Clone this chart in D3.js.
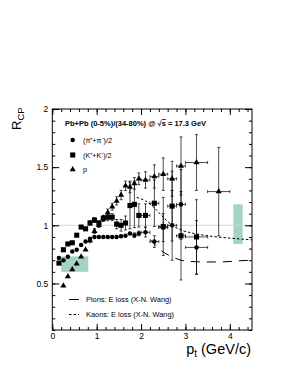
<!DOCTYPE html>
<html>
<head>
<meta charset="utf-8">
<script src="https://cdn.jsdelivr.net/npm/d3@7"></script>
<style>
  body { margin: 0; background: #fff; }
  svg { display: block; font-family: "Liberation Sans", Arial, sans-serif; }
</style>
</head>
<body>
<div id="chart"></div>
<script>
// pions (pi+ + pi-)/2
const pionPt   = [0.15, 0.25, 0.35, 0.45, 0.55, 0.65, 0.75, 0.85, 0.95, 1.05, 1.15, 1.25, 1.35, 1.45, 1.55, 1.65, 1.75, 1.85, 1.95, 2.1, 2.3, 2.5, 2.7, 2.9, 3.25];
const pionRcp  = [0.72, 0.70, 0.73, 0.775, 0.79, 0.83, 0.86, 0.885, 0.90, 0.90, 0.90, 0.90, 0.90, 0.90, 0.905, 0.91, 0.93, 0.915, 0.93, 0.94, 0.86, 0.98, 1.0, 1.18, 0.81];
const pionErr  = [0.01, 0.01, 0.01, 0.01, 0.01, 0.01, 0.01, 0.01, 0.01, 0.01, 0.01, 0.01, 0.01, 0.012, 0.012, 0.015, 0.015, 0.02, 0.02, 0.04, 0.05, 0.12, 0.3, 0.3, 0.23];
const pionXErr = [0, 0, 0, 0, 0, 0, 0, 0, 0, 0, 0, 0, 0, 0, 0, 0, 0, 0, 0, 0.1, 0.1, 0.1, 0.1, 0.1, 0.25];

// kaons (K+ + K-)/2
const kaonPt   = [0.15, 0.25, 0.35, 0.45, 0.55, 0.65, 0.75, 0.85, 0.95, 1.05, 1.15, 1.25, 1.35, 1.45, 1.55, 1.65, 1.75, 1.85, 1.95, 2.1, 2.3, 2.5, 2.7, 2.9, 3.25];
const kaonRcp  = [0.675, 0.79, 0.84, 0.85, 0.915, 0.985, 0.97, 1.02, 1.045, 1.02, 1.06, 1.07, 1.07, 1.01, 1.0, 1.02, 1.17, 1.18, 1.085, 1.085, 1.19, 0.99, 1.165, 0.91, 0.90];
const kaonErr  = [0.01, 0.01, 0.01, 0.01, 0.015, 0.015, 0.015, 0.02, 0.02, 0.02, 0.025, 0.03, 0.03, 0.04, 0.05, 0.06, 0.2, 0.2, 0.1, 0.1, 0.2, 0.25, 0.3, 0.38, 0.32];
const kaonXErr = [0, 0, 0, 0, 0, 0, 0, 0, 0, 0, 0, 0, 0, 0, 0, 0, 0, 0, 0, 0.1, 0.1, 0.1, 0.1, 0.1, 0.25];

// protons
const protonPt   = [0.25, 0.35, 0.45, 0.55, 0.65, 0.75, 0.85, 0.95, 1.05, 1.15, 1.25, 1.35, 1.45, 1.55, 1.65, 1.75, 1.85, 1.95, 2.1, 2.3, 2.5, 2.7, 2.9, 3.25, 3.75];
const protonRcp  = [0.48, 0.56, 0.62, 0.67, 0.73, 0.79, 0.87, 0.95, 1.0, 1.06, 1.11, 1.16, 1.21, 1.26, 1.34, 1.33, 1.36, 1.40, 1.39, 1.42, 1.44, 1.40, 1.51, 1.54, 1.29];
const protonErr  = [0.01, 0.01, 0.01, 0.015, 0.015, 0.015, 0.02, 0.02, 0.02, 0.025, 0.03, 0.03, 0.035, 0.04, 0.04, 0.05, 0.05, 0.05, 0.07, 0.1, 0.14, 0.15, 0.25, 0.24, 0.38];
const protonXErr = [0, 0, 0, 0, 0, 0, 0, 0, 0, 0, 0, 0, 0, 0, 0, 0, 0, 0, 0.1, 0.1, 0.1, 0.1, 0.1, 0.25, 0.25];

// energy loss calculations (X-N. Wang)
const pionCurvePt = [2.2, 2.35, 2.5, 2.7, 2.9, 3.1, 3.4, 3.8, 4.2, 4.5];
const pionCurveR  = [0.88, 0.82, 0.77, 0.73, 0.70, 0.69, 0.685, 0.685, 0.695, 0.70];
const kaonCurvePt = [1.9, 2.1, 2.3, 2.5, 2.7, 2.9, 3.2, 3.6, 4.0, 4.5];
const kaonCurveR  = [1.24, 1.21, 1.15, 1.07, 1.0, 0.96, 0.93, 0.905, 0.89, 0.875];

// systematic boxes [ptLo, ptHi, lo, hi]
const sysBoxes = [[0.2, 0.81, 0.60, 0.733], [4.08, 4.29, 0.84, 1.18]];

const xTicks = [0, 1, 2, 3, 4];
const yTicks = [0.5, 1, 1.5, 2];

const width = 286, height = 371;
const margin = { top: 109, right: 34, bottom: 41, left: 52.3 };

const svg = d3.select('#chart').append('svg')
    .attr('width', width)
    .attr('height', height);

const x = d3.scaleLinear().domain([0, 4.5]).range([margin.left, width - margin.right]);
const y = d3.scaleLinear().domain([0.1, 2]).range([height - margin.bottom, margin.top]);

const plot = svg.append('g');

// systematic error boxes
plot.selectAll('.sys')
    .data(sysBoxes)
    .enter().append('rect')
    .attr('x', d => x(d[0]))
    .attr('width', d => x(d[1]) - x(d[0]))
    .attr('y', d => y(d[3]))
    .attr('height', d => y(d[2]) - y(d[3]))
    .attr('fill', '#a3d3c3');

// reference line at 1
plot.append('line')
    .attr('x1', x(0)).attr('x2', x(4.5))
    .attr('y1', y(1)).attr('y2', y(1))
    .attr('stroke', '#d4d4d4').attr('stroke-width', 1);

const line = d3.line().x(d => x(d[0])).y(d => y(d[1])).curve(d3.curveMonotoneX);

plot.append('path')
    .datum(d3.zip(pionCurvePt, pionCurveR))
    .attr('d', line)
    .attr('fill', 'none').attr('stroke', '#000').attr('stroke-width', 1)
    .attr('stroke-dasharray', '9,7');

plot.append('path')
    .datum(d3.zip(kaonCurvePt, kaonCurveR))
    .attr('d', line)
    .attr('fill', 'none').attr('stroke', '#000').attr('stroke-width', 1)
    .attr('stroke-dasharray', '2.5,2');

const series = [
    { pt: pionPt, r: pionRcp, err: pionErr, xerr: pionXErr, shape: d3.symbolCircle, size: 16 },
    { pt: kaonPt, r: kaonRcp, err: kaonErr, xerr: kaonXErr, shape: d3.symbolSquare, size: 26 },
    { pt: protonPt, r: protonRcp, err: protonErr, xerr: protonXErr, shape: d3.symbolTriangle, size: 16 }
];

// error bars
series.forEach(s => {
    const pts = s.pt.map((p, i) => ({ p, r: s.r[i], e: s.err[i], xe: s.xerr[i] }));
    const g = plot.append('g').attr('stroke', '#000').attr('stroke-width', 0.7);
    g.selectAll('.ey').data(pts.filter(d => y(d.r - d.e) - y(d.r + d.e) > 4))
        .enter().append('path')
        .attr('d', d => {
            const cx = x(d.p), t = y(d.r + d.e), b = y(d.r - d.e);
            return `M${cx},${t}V${b}M${cx - 1.5},${t}H${cx + 1.5}M${cx - 1.5},${b}H${cx + 1.5}`;
        });
    g.selectAll('.ex').data(pts.filter(d => d.xe > 0))
        .enter().append('path')
        .attr('d', d => {
            const cy = y(d.r), l = x(d.p - d.xe), r = x(d.p + d.xe);
            return `M${l},${cy}H${r}M${l},${cy - 1.5}V${cy + 1.5}M${r},${cy - 1.5}V${cy + 1.5}`;
        });
});

// markers
series.forEach(s => {
    plot.append('g').selectAll('path')
        .data(s.pt.map((p, i) => [p, s.r[i]]))
        .enter().append('path')
        .attr('transform', d => `translate(${x(d[0])},${y(d[1])})`)
        .attr('d', d3.symbol().type(s.shape).size(s.size))
        .attr('fill', '#000');
});

// frame and ticks
svg.append('rect')
    .attr('x', x(0)).attr('y', y(2))
    .attr('width', x(4.5) - x(0)).attr('height', y(0.1) - y(2))
    .attr('fill', 'none').attr('stroke', '#000').attr('stroke-width', 1);

const xMinor = d3.range(0, 4.51, 0.2);
const yMinor = d3.range(0.1, 2.001, 0.1);

svg.append('g').attr('transform', `translate(0,${y(0.1)})`)
    .call(d3.axisBottom(x).tickValues(xMinor).tickSize(-3).tickFormat(''))
    .call(g => g.select('.domain').remove());
svg.append('g').attr('transform', `translate(0,${y(0.1)})`)
    .call(d3.axisBottom(x).tickValues(xTicks).tickSize(-6).tickPadding(3).tickFormat(d3.format('d')))
    .call(g => g.select('.domain').remove())
    .call(g => g.selectAll('text').attr('font-size', '8.5px').attr('font-family', '"Liberation Sans", Arial, sans-serif'));
svg.append('g').attr('transform', `translate(0,${y(2)})`)
    .call(d3.axisTop(x).tickValues(xMinor).tickSize(-3).tickFormat(''))
    .call(g => g.select('.domain').remove());
svg.append('g').attr('transform', `translate(0,${y(2)})`)
    .call(d3.axisTop(x).tickValues(xTicks).tickSize(-6).tickFormat(''))
    .call(g => g.select('.domain').remove());

svg.append('g').attr('transform', `translate(${x(0)},0)`)
    .call(d3.axisLeft(y).tickValues(yMinor).tickSize(-3).tickFormat(''))
    .call(g => g.select('.domain').remove());
svg.append('g').attr('transform', `translate(${x(0)},0)`)
    .call(d3.axisLeft(y).tickValues(yTicks).tickSize(-7).tickPadding(4).tickFormat(d => d === 1 || d === 2 ? d : d3.format('.1f')(d)))
    .call(g => g.select('.domain').remove())
    .call(g => g.selectAll('text').attr('font-size', '8.5px').attr('font-family', '"Liberation Sans", Arial, sans-serif'));
svg.append('g').attr('transform', `translate(${x(4.5)},0)`)
    .call(d3.axisRight(y).tickValues(yMinor).tickSize(-3).tickFormat(''))
    .call(g => g.select('.domain').remove());
svg.append('g').attr('transform', `translate(${x(4.5)},0)`)
    .call(d3.axisRight(y).tickValues(yTicks).tickSize(-7).tickFormat(''))
    .call(g => g.select('.domain').remove());

// axis titles
svg.append('text')
    .attr('transform', 'translate(21,130) rotate(-90)')
    .attr('font-size', '13px')
    .text('R')
    .append('tspan').attr('font-size', '9.5px').attr('dy', 3).text('CP');

const xt = svg.append('text')
    .attr('x', 251).attr('y', 354)
    .attr('text-anchor', 'end')
    .attr('font-size', '14.5px');
xt.append('tspan').text('p');
xt.append('tspan').attr('font-size', '10px').attr('dy', 3).text('t');
xt.append('tspan').attr('dy', -3).text(' (GeV/c)');

// legend
const title = svg.append('text')
    .attr('x', 65).attr('y', 126)
    .attr('font-size', '7.5px').attr('font-weight', 'bold')
    .text('Pb+Pb (0-5%)/(34-80%) @ √');
title.append('tspan').style('text-decoration', 'overline').text('s');
title.append('tspan').text(' = 17.3 GeV');

const legendItems = [
    { shape: d3.symbolCircle, size: 16, label: '(π⁺+π⁻)/2', y: 140 },
    { shape: d3.symbolSquare, size: 26, label: '(K⁺+K⁻)/2', y: 155 },
    { shape: d3.symbolTriangle, size: 16, label: 'p', y: 169.5 }
];
legendItems.forEach(d => {
    svg.append('path')
        .attr('transform', `translate(72.7,${d.y})`)
        .attr('d', d3.symbol().type(d.shape).size(d.size))
        .attr('fill', '#000');
    svg.append('text')
        .attr('x', 83).attr('y', d.y + 2.5)
        .attr('font-size', '7.2px')
        .text(d.label);
});

const curveLegend = [
    { dash: null, label: 'Pions: E loss (X-N. Wang)', y: 299.5 },
    { dash: '2.5,2', label: 'Kaons: E loss (X-N. Wang)', y: 314.5 }
];
curveLegend.forEach(d => {
    svg.append('line')
        .attr('x1', 69).attr('x2', 79).attr('y1', d.y).attr('y2', d.y)
        .attr('stroke', '#000').attr('stroke-width', 1)
        .attr('stroke-dasharray', d.dash);
    svg.append('text')
        .attr('x', 86).attr('y', d.y + 2.5)
        .attr('font-size', '7.4px')
        .text(d.label);
});
</script>
</body>
</html>
